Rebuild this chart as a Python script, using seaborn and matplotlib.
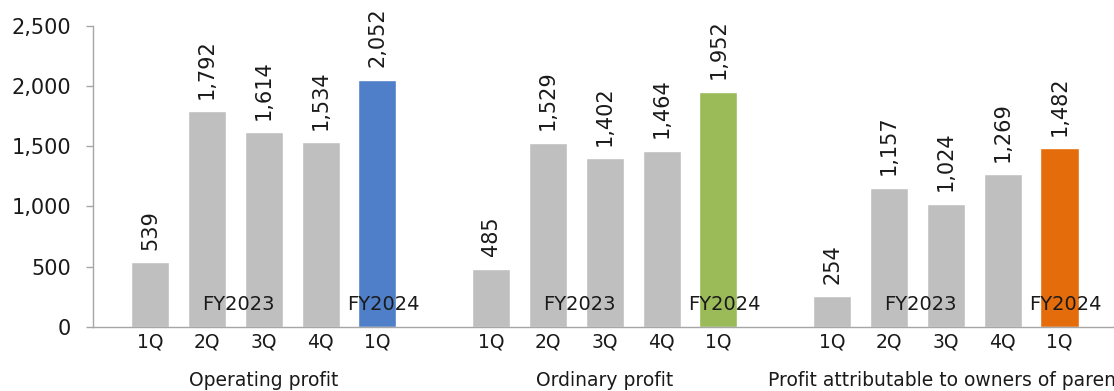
import pandas as pd
import seaborn as sns
import matplotlib.pyplot as plt

quarters = ["1Q", "2Q", "3Q", "4Q", "1Q"]
groups = ["Operating profit", "Ordinary profit", "Profit attributable to owners of parent"]
operating = [539, 1792, 1614, 1534, 2052]
ordinary = [485, 1529, 1402, 1464, 1952]
attributable = [254, 1157, 1024, 1269, 1482]
series = [operating, ordinary, attributable]

colores = {"prev": "#BFBFBF", "g0": "#4F7FC8", "g1": "#9BBB59", "g2": "#E46C0A"}

filas = []
for g, valores in enumerate(series):
    for q, v in enumerate(valores):
        filas.append({
            "pos": g * 6 + q + 1,
            "value": v,
            "color": "prev" if q < 4 else f"g{g}",
        })
df = pd.DataFrame(filas)

sns.set_style("white")
plt.rcParams["font.family"] = ["DejaVu Sans"]

fig = plt.figure(figsize=(11.14, 3.91), dpi=100)
ax = fig.add_axes([93.2 / 1114, 64 / 391, 1023.1 / 1114, 301.3 / 391])

sns.barplot(data=df, x="pos", y="value", hue="color", palette=colores,
            native_scale=True, dodge=False, width=0.67, legend=False,
            saturation=1, ax=ax)

txt = "#1a1a1a"
for _, r in df.iterrows():
    ax.annotate(f"{r['value']:,}", (r["pos"], r["value"]), xytext=(0, 9),
                textcoords="offset points", rotation=90, ha="center",
                va="bottom", fontsize=15, color=txt, annotation_clip=False)

for g in range(3):
    ax.text(g * 6 + 2.55, 183, "FY2023", ha="center", va="center", fontsize=14, color=txt)
    ax.text(g * 6 + 5.1, 183, "FY2024", ha="center", va="center", fontsize=14, color=txt)
    ax.text(g * 6 + 3, -0.176, groups[g], ha="center", va="center", fontsize=13.5,
            color=txt, transform=ax.get_xaxis_transform(), clip_on=False)

ax.set_xlim(0, 18)
ax.set_ylim(0, 2500)
ax.set_yticks(range(0, 2501, 500))
ax.set_yticklabels([f"{v:,}" for v in range(0, 2501, 500)], fontsize=15, color=txt)
ax.set_xticks(df["pos"])
ax.set_xticklabels(quarters * 3, fontsize=13.5, color=txt)
ax.set_xticks([0, 6, 12, 18], minor=True)
ax.tick_params(axis="x", which="major", length=0, pad=4)
ax.tick_params(axis="x", which="minor", length=5, direction="out", color="#A6A6A6", width=1)
ax.tick_params(axis="y", length=5, direction="out", color="#A6A6A6", width=1, pad=11, left=True)
ax.set_xlabel("")
ax.set_ylabel("")
for s in ["top", "right"]:
    ax.spines[s].set_visible(False)
for s in ["left", "bottom"]:
    ax.spines[s].set_color("#A6A6A6")
    ax.spines[s].set_linewidth(1)

fig.savefig("out.png", dpi=100)
